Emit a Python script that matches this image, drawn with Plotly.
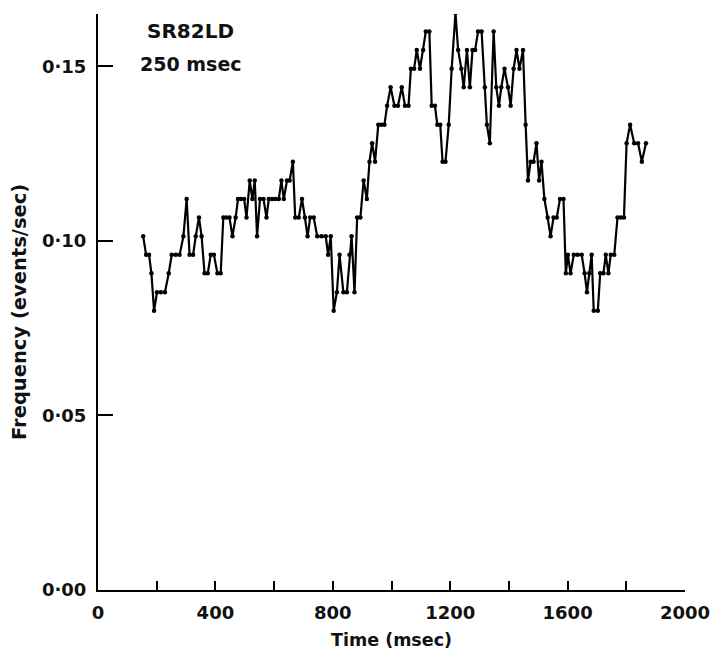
import plotly.graph_objects as go

# Time (ms) of each point and the firing frequency (events/sec)
time_ms = [154, 164, 174, 182, 191, 201, 214, 228, 241, 251, 265, 278, 291, 302, 312, 324, 333, 344, 353, 363,
           374, 384, 395, 407, 418, 427, 437, 448, 458, 469, 477, 487, 498, 506, 517, 526, 534, 542, 552, 564,
           574, 582, 593, 604, 616, 625, 633, 644, 653, 664, 672, 684, 695, 705, 714, 723, 735, 747, 762, 776,
           784, 793, 803, 814, 823, 836, 848, 857, 864, 874, 883, 894, 905, 916, 925, 934, 944, 955, 966, 976,
           985, 997, 1010, 1022, 1035, 1046, 1058, 1066, 1077, 1086, 1097, 1108, 1117, 1129, 1137, 1148, 1156, 1166, 1174, 1184,
           1195, 1205, 1218, 1227, 1238, 1246, 1257, 1267, 1276, 1285, 1295, 1307, 1318, 1325, 1335, 1348, 1357, 1366, 1374, 1385,
           1397, 1406, 1416, 1426, 1436, 1448, 1457, 1465, 1474, 1484, 1494, 1503, 1511, 1521, 1532, 1542, 1552, 1563, 1574, 1586,
           1594, 1601, 1610, 1621, 1634, 1648, 1658, 1666, 1674, 1682, 1689, 1703, 1711, 1722, 1730, 1739, 1747, 1759, 1770, 1781,
           1792, 1801, 1813, 1827, 1840, 1853, 1867]

frequency = [0.1013, 0.0960, 0.0960, 0.0907, 0.0800, 0.0853, 0.0853, 0.0853, 0.0907, 0.0960, 0.0960, 0.0960, 0.1013, 0.1120, 0.0960, 0.0960, 0.1013, 0.1067, 0.1013, 0.0907,
             0.0907, 0.0960, 0.0960, 0.0907, 0.0907, 0.1067, 0.1067, 0.1067, 0.1013, 0.1067, 0.1120, 0.1120, 0.1120, 0.1067, 0.1173, 0.1120, 0.1173, 0.1013, 0.1120, 0.1120,
             0.1067, 0.1120, 0.1120, 0.1120, 0.1120, 0.1173, 0.1120, 0.1173, 0.1173, 0.1227, 0.1067, 0.1067, 0.1120, 0.1067, 0.1013, 0.1067, 0.1067, 0.1013, 0.1013, 0.1013,
             0.0960, 0.1013, 0.0800, 0.0853, 0.0960, 0.0853, 0.0853, 0.0960, 0.1013, 0.0853, 0.1067, 0.1067, 0.1173, 0.1120, 0.1227, 0.1280, 0.1227, 0.1333, 0.1333, 0.1333,
             0.1387, 0.1440, 0.1387, 0.1387, 0.1440, 0.1387, 0.1387, 0.1493, 0.1493, 0.1547, 0.1493, 0.1547, 0.1600, 0.1600, 0.1387, 0.1387, 0.1333, 0.1333, 0.1227, 0.1227,
             0.1333, 0.1493, 0.1653, 0.1547, 0.1493, 0.1440, 0.1547, 0.1440, 0.1547, 0.1547, 0.1600, 0.1600, 0.1440, 0.1333, 0.1280, 0.1600, 0.1440, 0.1387, 0.1440, 0.1493,
             0.1440, 0.1387, 0.1493, 0.1547, 0.1493, 0.1547, 0.1333, 0.1173, 0.1227, 0.1227, 0.1280, 0.1173, 0.1227, 0.1120, 0.1067, 0.1013, 0.1067, 0.1067, 0.1120, 0.1120,
             0.0907, 0.0960, 0.0907, 0.0960, 0.0960, 0.0960, 0.0907, 0.0853, 0.0907, 0.0960, 0.0800, 0.0800, 0.0907, 0.0907, 0.0960, 0.0907, 0.0960, 0.0960, 0.1067, 0.1067,
             0.1067, 0.1280, 0.1333, 0.1280, 0.1280, 0.1227, 0.1280]

x_tick_vals = [0, 200, 400, 600, 800, 1000, 1200, 1400, 1600, 1800, 2000]
x_tick_text = ["0", "", "400", "", "800", "", "1200", "", "1600", "", "2000"]
y_tick_vals = [0.0, 0.05, 0.10, 0.15]
y_tick_text = ["0·00", "0·05", "0·10", "0·15"]

FONT = "DejaVu Sans, sans-serif"


def f(size):
    return dict(family=FONT, size=size, color="#111111", weight="bold")


fig = go.Figure()
fig.add_trace(go.Scatter(
    x=time_ms, y=frequency, mode="lines+markers",
    line=dict(color="black", width=2.2),
    marker=dict(color="black", size=4.5),
    showlegend=False, hoverinfo="skip",
))

fig.update_layout(
    width=710, height=656, autosize=False,
    margin=dict(l=97.5, r=25, t=14, b=66),
    paper_bgcolor="white", plot_bgcolor="white",
    font=f(18),
    xaxis=dict(range=[0, 2000], tickvals=x_tick_vals, ticktext=x_tick_text,
               ticks="inside", ticklen=9, tickwidth=1.8, tickcolor="black",
               showline=True, linecolor="black", linewidth=2, showgrid=False,
               zeroline=False, ticklabelstandoff=5, automargin=False,
               ticklabeloverflow="allow", tickfont=f(18)),
    yaxis=dict(range=[0, 0.165], tickvals=y_tick_vals, ticktext=y_tick_text,
               ticks="inside", ticklen=15, tickwidth=2, tickcolor="black",
               showline=True, linecolor="black", linewidth=2, showgrid=False,
               zeroline=False, ticklabelstandoff=6, automargin=False,
               ticklabeloverflow="allow", tickfont=f(18)),
    annotations=[
        dict(text="Time (msec)", xref="paper", yref="paper", x=0.5, y=0,
             yshift=-50, xanchor="center", yanchor="middle", showarrow=False,
             font=f(17.5)),
        dict(text="Frequency (events/sec)", xref="paper", yref="paper", x=0, y=0.5,
             xshift=-79, yshift=-10, xanchor="center", yanchor="middle", textangle=-90,
             showarrow=False, font=f(19.5)),
        dict(text="SR82LD", xref="x", yref="y", x=315, y=0.1602,
             xanchor="center", yanchor="middle", showarrow=False,
             font=f(20)),
        dict(text="250 msec", xref="x", yref="y", x=318, y=0.1507,
             xanchor="center", yanchor="middle", showarrow=False,
             font=f(19)),
    ],
)

fig.write_html(
    "out.html",
    config={"responsive": False, "displayModeBar": False},
    post_script="document.body.style.margin='0';document.body.style.padding='0';document.body.style.overflow='hidden';",
)
